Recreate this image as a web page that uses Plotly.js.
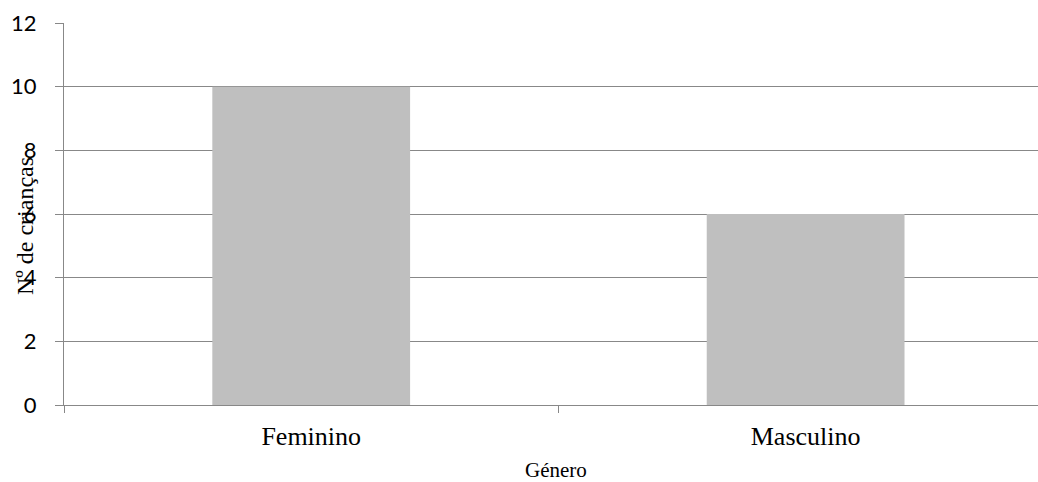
<!DOCTYPE html>
<html>
<head>
<meta charset="utf-8">
<script src="https://cdn.plot.ly/plotly-3.0.1.min.js"></script>
<style>html,body{margin:0;padding:0;background:#fff;}#chart{width:1038px;height:482px;}</style>
</head>
<body>
<div id="chart"></div>
<script>
const categories = ["Feminino", "Masculino"];
const values = [10, 6];
const yTicks = [0, 2, 4, 6, 8, 10, 12];
const xTitle = "Género";
const yTitle = "Nº de crianças";

const trace = {
  type: "bar",
  x: categories,
  y: values,
  width: 0.4,
  marker: {color: "#bfbfbf"},
  hoverinfo: "skip"
};

const layout = {
  width: 1038,
  height: 482,
  margin: {l: 64, r: 0, t: 23, b: 77, pad: 0},
  paper_bgcolor: "#ffffff",
  plot_bgcolor: "#ffffff",
  showlegend: false,
  xaxis: {
    type: "category",
    range: [-0.5, 1.47],
    showline: true,
    linecolor: "#888888",
    linewidth: 1,
    showgrid: false,
    zeroline: false,
    ticks: "outside",
    tickson: "boundaries",
    ticklen: 7,
    tickcolor: "#888888",
    tickfont: {family: "Liberation Serif, Times New Roman, serif", size: 26, color: "#000"},
    ticklabelstandoff: 8
  },
  yaxis: {
    range: [0, 12],
    tickvals: yTicks,
    ticktext: yTicks.map(String),
    showline: true,
    linecolor: "#888888",
    linewidth: 1,
    showgrid: true,
    gridcolor: "#888888",
    gridwidth: 1,
    zeroline: false,
    ticks: "outside",
    ticklen: 8,
    tickcolor: "#888888",
    tickfont: {family: "Lato, Open Sans, sans-serif", size: 22, color: "#000"},
    ticklabelstandoff: 14
  },
  annotations: [
    {
      text: xTitle, xref: "paper", yref: "paper",
      x: (556 - 64) / 974, y: (405 - 470) / 382,
      xanchor: "center", yanchor: "middle", showarrow: false,
      font: {family: "Liberation Serif, Times New Roman, serif", size: 21, color: "#000"}
    },
    {
      text: yTitle, xref: "paper", yref: "paper",
      x: (25 - 64) / 974, y: (405 - 226) / 382,
      xanchor: "center", yanchor: "middle", showarrow: false, textangle: -90,
      font: {family: "Liberation Serif, Times New Roman, serif", size: 24, color: "#000"}
    }
  ]
};

Plotly.newPlot("chart", [trace], layout, {displayModeBar: false, staticPlot: true});
</script>
</body>
</html>
